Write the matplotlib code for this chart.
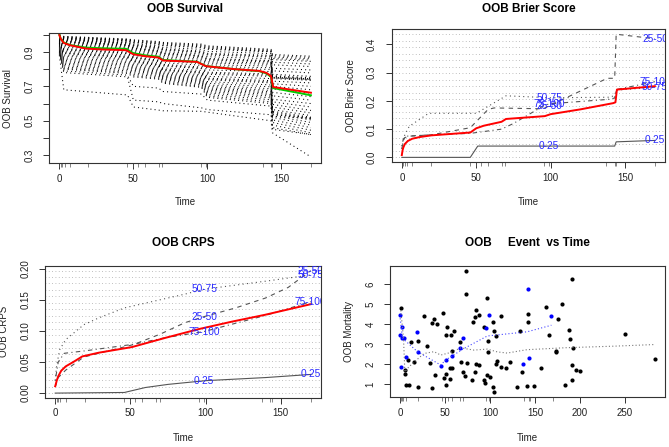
import matplotlib
matplotlib.use("Agg")
import matplotlib.pyplot as plt
import numpy as np

W, H = 669, 447
plt.rcParams["font.family"] = ["Liberation Sans", "DejaVu Sans"]

# event times (rug marks on every panel)
event_times = [0, 1, 2, 3.5, 7, 19.5, 46, 50, 53, 58, 67, 69.5, 95.5, 99, 137.5, 143, 144, 170]

# OOB survival: individual ensemble curves, read at these times
surv_grid = [0, 3, 46, 50, 67, 70, 96, 100, 143, 144, 170]
surv_curves = [
    [1.000, 0.990, 0.975, 0.970, 0.960, 0.955, 0.945, 0.935, 0.915, 0.885, 0.875],
    [0.998, 0.988, 0.972, 0.966, 0.956, 0.950, 0.940, 0.930, 0.910, 0.878, 0.868],
    [0.995, 0.985, 0.970, 0.962, 0.952, 0.946, 0.935, 0.925, 0.905, 0.870, 0.860],
    [0.995, 0.980, 0.965, 0.955, 0.944, 0.936, 0.925, 0.915, 0.900, 0.855, 0.845],
    [0.992, 0.982, 0.967, 0.958, 0.948, 0.940, 0.930, 0.920, 0.902, 0.862, 0.852],
    [0.990, 0.978, 0.960, 0.948, 0.936, 0.926, 0.915, 0.903, 0.890, 0.840, 0.830],
    [0.990, 0.975, 0.955, 0.942, 0.930, 0.918, 0.905, 0.892, 0.880, 0.825, 0.815],
    [0.988, 0.970, 0.950, 0.935, 0.922, 0.910, 0.896, 0.882, 0.870, 0.805, 0.795],
    [0.987, 0.973, 0.952, 0.938, 0.926, 0.914, 0.900, 0.887, 0.875, 0.748, 0.740],
    [0.985, 0.967, 0.946, 0.930, 0.916, 0.902, 0.888, 0.872, 0.860, 0.790, 0.778],
    [0.985, 0.963, 0.941, 0.924, 0.909, 0.895, 0.880, 0.862, 0.850, 0.770, 0.758],
    [0.983, 0.960, 0.940, 0.921, 0.906, 0.891, 0.876, 0.857, 0.846, 0.752, 0.744],
    [0.982, 0.958, 0.937, 0.918, 0.902, 0.887, 0.872, 0.852, 0.842, 0.762, 0.750],
    [0.980, 0.955, 0.933, 0.913, 0.897, 0.880, 0.865, 0.843, 0.835, 0.758, 0.746],
    [0.978, 0.950, 0.928, 0.907, 0.890, 0.872, 0.857, 0.835, 0.828, 0.755, 0.742],
    [0.975, 0.945, 0.922, 0.900, 0.882, 0.864, 0.848, 0.825, 0.818, 0.750, 0.738],
    [0.972, 0.940, 0.917, 0.893, 0.875, 0.856, 0.840, 0.815, 0.808, 0.745, 0.735],
    [0.970, 0.935, 0.912, 0.887, 0.868, 0.848, 0.832, 0.806, 0.798, 0.730, 0.720],
    [0.968, 0.928, 0.905, 0.880, 0.860, 0.838, 0.822, 0.795, 0.786, 0.715, 0.700],
    [0.965, 0.920, 0.898, 0.872, 0.852, 0.828, 0.812, 0.782, 0.772, 0.700, 0.680],
    [0.962, 0.915, 0.893, 0.868, 0.848, 0.823, 0.806, 0.776, 0.765, 0.525, 0.515],
    [0.960, 0.912, 0.890, 0.864, 0.844, 0.818, 0.802, 0.770, 0.758, 0.685, 0.660],
    [0.958, 0.905, 0.882, 0.856, 0.836, 0.808, 0.792, 0.758, 0.745, 0.665, 0.640],
    [0.955, 0.898, 0.875, 0.850, 0.829, 0.800, 0.784, 0.748, 0.733, 0.645, 0.620],
    [0.952, 0.893, 0.870, 0.846, 0.825, 0.796, 0.780, 0.743, 0.726, 0.535, 0.520],
    [0.950, 0.890, 0.867, 0.842, 0.821, 0.792, 0.775, 0.738, 0.720, 0.625, 0.600],
    [0.948, 0.882, 0.860, 0.835, 0.814, 0.785, 0.767, 0.728, 0.708, 0.610, 0.580],
    [0.945, 0.875, 0.853, 0.828, 0.807, 0.778, 0.760, 0.718, 0.697, 0.595, 0.560],
    [0.940, 0.866, 0.845, 0.820, 0.800, 0.772, 0.753, 0.708, 0.686, 0.580, 0.545],
    [0.935, 0.858, 0.838, 0.813, 0.794, 0.766, 0.746, 0.700, 0.676, 0.565, 0.530],
    [0.930, 0.850, 0.830, 0.806, 0.788, 0.760, 0.740, 0.692, 0.668, 0.555, 0.520],
    [0.925, 0.843, 0.823, 0.800, 0.782, 0.755, 0.734, 0.685, 0.660, 0.548, 0.512],
    [0.920, 0.835, 0.815, 0.793, 0.776, 0.750, 0.728, 0.678, 0.652, 0.540, 0.505],
    [0.915, 0.828, 0.806, 0.786, 0.770, 0.744, 0.722, 0.670, 0.643, 0.530, 0.490],
    [0.910, 0.820, 0.798, 0.778, 0.763, 0.738, 0.715, 0.662, 0.633, 0.520, 0.475],
    [0.905, 0.812, 0.790, 0.770, 0.756, 0.731, 0.708, 0.653, 0.622, 0.505, 0.460],
    [0.900, 0.805, 0.782, 0.762, 0.748, 0.724, 0.700, 0.644, 0.610, 0.490, 0.445],
    [0.895, 0.800, 0.775, 0.755, 0.742, 0.718, 0.694, 0.636, 0.600, 0.475, 0.430],
    [0.890, 0.790, 0.765, 0.700, 0.690, 0.670, 0.655, 0.620, 0.585, 0.460, 0.420],
    [0.885, 0.780, 0.755, 0.620, 0.610, 0.600, 0.575, 0.565, 0.535, 0.450, 0.420],
    [0.880, 0.680, 0.650, 0.580, 0.562, 0.558, 0.555, 0.550, 0.500, 0.430, 0.290],
]
ens_time = [0, 1, 3, 7, 18, 29, 45, 50, 58, 67, 70, 93, 99, 118, 135, 140, 143, 144.5, 170]
ens_surv = [0.997, 0.975, 0.952, 0.939, 0.919, 0.914, 0.910, 0.886, 0.875, 0.867, 0.850,
            0.842, 0.817, 0.800, 0.790, 0.778, 0.760, 0.696, 0.663]
km_surv = [1.000, 0.975, 0.955, 0.940, 0.925, 0.921, 0.918, 0.893, 0.880, 0.872, 0.853,
           0.843, 0.818, 0.800, 0.788, 0.775, 0.755, 0.690, 0.648]

# Brier score and CRPS, by mortality quartile
quart_labels = ["0-25", "25-50", "50-75", "75-100"]
brier_t = [
    [0, 46, 51, 143, 144, 170],
    [0, 1, 2, 5, 20, 46, 58, 62, 95, 100, 138, 143, 144, 170],
    [0, 1, 2, 5, 18, 50, 70, 100, 140, 143, 144, 170],
    [0, 1, 3, 20, 46, 67, 75, 96, 100, 138, 143, 144, 170],
]
brier_v = [
    [0, 0, 0.04, 0.04, 0.055, 0.06],
    [0.03, 0.06, 0.07, 0.075, 0.08, 0.105, 0.17, 0.175, 0.172, 0.185, 0.28, 0.28, 0.436, 0.42],
    [0.03, 0.06, 0.08, 0.11, 0.156, 0.156, 0.218, 0.211, 0.213, 0.22, 0.238, 0.248],
    [0.04, 0.065, 0.075, 0.08, 0.085, 0.1, 0.12, 0.185, 0.19, 0.205, 0.21, 0.24, 0.268],
]
brier_all_t = [0, 0.5, 1, 2, 4, 7, 12, 20, 46, 50, 55, 67, 70, 96, 100, 120, 142, 143.5, 144.5, 170]
brier_all_v = [0.008, 0.025, 0.035, 0.047, 0.058, 0.066, 0.072, 0.078, 0.088, 0.103, 0.112,
               0.126, 0.136, 0.146, 0.153, 0.170, 0.192, 0.195, 0.240, 0.252]

crps_t = [
    [0, 46, 60, 75, 100, 140, 170],
    [0, 2, 7, 19, 52, 70, 86, 99, 120, 140, 155, 170],
    [0, 1, 3, 7, 19, 29, 46, 86, 99, 140, 170],
    [0, 2, 6, 20, 52, 73, 99, 140, 170],
]
crps_v = [
    [0, 0.001, 0.009, 0.014, 0.02, 0.025, 0.030],
    [0.01, 0.025, 0.037, 0.058, 0.078, 0.095, 0.113, 0.123, 0.137, 0.153, 0.17, 0.197],
    [0.02, 0.045, 0.07, 0.086, 0.11, 0.121, 0.137, 0.159, 0.167, 0.18, 0.19],
    [0.02, 0.05, 0.064, 0.068, 0.0785, 0.089, 0.099, 0.125, 0.147],
]
crps_all_t = [0, 1, 2, 4, 7, 12, 18, 29, 51, 73.5, 95.6, 117.7, 139.7, 170]
crps_all_v = [0.011, 0.02, 0.027, 0.036, 0.043, 0.05, 0.059, 0.065, 0.074, 0.089, 0.103,
              0.115, 0.126, 0.143]

# OOB mortality vs time
cens_time = [0.7, 5.5, 5.8, 6.3, 9.9, 9.2, 15.5, 11.8, 20.3, 19.9, 26.6, 30.3, 33.3, 35.8,
             35.8, 37.7, 40.7, 38.4, 47.7, 50.6, 52.5, 57.0, 59.5, 50.6, 51.4, 55.5, 57.3,
             55.8, 49.2, 58.0, 66.6, 68.1, 70.3, 71.7, 72.8, 73.2, 73.9, 80.2, 81.3, 82.8,
             84.3, 82.8, 87.6, 84.6, 88.0, 93.2, 93.2, 93.9, 96.9, 96.9, 98.0, 97.5, 99.5,
             102.8, 104.2, 103.5, 103.9, 106.2, 106.2, 108.1, 111.8, 112.5, 117.3, 122.1,
             130.2, 133.2, 135.5, 140.9, 142.8, 142.8, 149.4, 156.5, 162.4, 165.7, 173.1,
             173.5, 175.3, 180.5, 183.5, 188.3, 189.0, 191.6, 191.6, 191.6, 192.7, 195.3,
             200.1, 250.1, 283.4]
cens_mort = [4.82, 1.48, 1.72, 0.95, 0.95, 2.18, 2.08, 3.10, 0.84, 3.18, 4.42, 2.89, 2.06, 0.78,
             4.07, 4.25, 4.00, 1.43, 4.57, 3.45, 3.87, 3.47, 3.65, 1.48, 0.93, 1.78, 1.81,
             1.23, 1.28, 2.65, 3.10, 2.12, 1.60, 1.42, 6.70, 5.50, 2.05, 1.20, 4.12, 4.35,
             4.73, 1.62, 4.47, 2.00, 1.97, 3.85, 1.20, 1.05, 5.32, 1.43, 2.62, 3.15, 1.35,
             4.13, 3.65, 0.85, 0.57, 3.42, 2.00, 2.13, 4.43, 1.87, 1.80, 2.10, 0.85, 3.68,
             1.60, 0.91, 4.50, 4.12, 0.91, 1.80, 4.86, 3.45, 2.67, 2.58, 4.25, 5.03, 0.95,
             3.73, 3.28, 6.28, 1.96, 1.21, 2.78, 1.68, 1.66, 3.53, 2.23]
event_time = [0, 2.2, 0, 2.2, 4.8, 0.7, 6.6, 18.8, 19.6, 45.8, 51.4, 57.7, 66.6, 69.9, 95.4,
              98.4, 137.2, 142.4, 143.9, 168.3]
event_mort = [4.48, 3.85, 3.48, 3.30, 3.30, 1.86, 2.35, 3.62, 2.62, 1.90, 2.20, 2.40, 2.78,
              3.32, 3.80, 4.48, 1.98, 5.78, 2.32, 4.41]
lowess_all_t = [0.7, 3.7, 5.2, 8.1, 15.5, 26.6, 37.7, 45.1, 56.2, 67.3, 82.1, 97, 108, 119,
                141, 185, 240, 283.4]
lowess_all_v = [4.7, 3.28, 1.6, 1.78, 2.1, 2.53, 2.62, 2.45, 2.58, 2.81, 2.70, 2.75, 2.61,
                2.55, 2.72, 2.82, 2.90, 2.98]
lowess_ev_t = [0, 2.5, 19.2, 45.1, 50.6, 71, 97, 141.3, 168.3]
lowess_ev_v = [4.3, 3.3, 2.62, 1.95, 2.2, 2.78, 3.41, 3.62, 3.95]

LINE_STYLES = ["-", (0, (4, 4)), (0, (1, 3)), (0, (1, 3, 4, 3))]
AX_COL = "#333333"

fig = plt.figure(figsize=(W / 100, H / 100), dpi=100)


def add_panel(box, title, ylabel, title_y, xlabel_y):
    """Place an R-style panel at a pixel box (left, top, right, bottom)."""
    l, t, r, b = box
    ax = fig.add_axes([l / W, 1 - b / H, (r - l) / W, (b - t) / H])
    for sp in ax.spines.values():
        sp.set_color(AX_COL)
        sp.set_linewidth(0.8)
    ax.tick_params(direction="out", length=4.5, width=0.7, colors=AX_COL,
                   labelsize=7, labelcolor="#222222")
    ax.tick_params(axis="x", pad=3)
    ax.tick_params(axis="y", pad=6)
    cx = (l + r) / 2
    fig.text(cx / W, 1 - title_y / H, title, ha="center", va="center",
             fontsize=8.5, fontweight="bold")
    fig.text(cx / W, 1 - xlabel_y / H, "Time", ha="center", va="center", fontsize=7,
             color="#222222")
    fig.text((l - 41) / W, 1 - (t + b) / 2 / H, ylabel, ha="center", va="center",
             rotation=90, fontsize=7, color="#222222")
    return ax


def finish_y(ax, ticks, labels):
    ax.set_yticks(ticks)
    ax.set_yticklabels(labels)
    for lab in ax.get_yticklabels():
        lab.set_rotation(90)
        lab.set_va("center")


def rug(ax):
    ax.vlines(event_times, -0.03, 0, transform=ax.get_xaxis_transform(),
              colors="#555555", linewidth=0.5, clip_on=False)


def r_limits(values):
    lo, hi = min(values), max(values)
    pad = 0.04 * (hi - lo)
    return lo - pad, hi + pad


# --- OOB Survival ---
ax = add_panel((49.3, 33.3, 321, 163.3), "OOB Survival", "OOB Survival", 8.5, 201.7)
for curve in surv_curves:
    ax.plot(surv_grid, curve, color="black", lw=0.75, ls=(0, (1, 3)))
ax.plot(ens_time, km_surv, color="#00CD00", lw=1.4)
ax.plot(ens_time, ens_surv, color="red", lw=1.4)
rug(ax)
ax.set_xlim(-6.8, 176.8)
ax.set_ylim(0.253, 1.008)
ax.set_xticks([0, 50, 100, 150])
finish_y(ax, np.round(np.arange(0.3, 1.01, 0.1), 1),
         ["0.3", "", "0.5", "", "0.7", "", "0.9", ""])


def quartile_panel(ax, ts, vs, all_t, all_v):
    vmax = max(max(v) for v in vs)
    for y in np.linspace(0, vmax, 20):
        ax.axhline(y, color="#aaaaaa", lw=0.6, ls=(0, (1, 3)), zorder=0)
    for t, v, ls in zip(ts, vs, LINE_STYLES):
        ax.plot(t, v, color="#555555", lw=0.8, ls=ls)
    mid = event_times[int(round(len(event_times) * 3 / 4)) - 1]
    end = event_times[-1]
    for t, v, lab in zip(ts, vs, quart_labels):
        for tx in (mid, end):
            ax.text(tx, np.interp(tx, t, v), lab, color="#2a2aff", fontsize=7.3,
                    ha="center", va="center", clip_on=True)
    ax.plot(all_t, all_v, color="red", lw=1.4)
    rug(ax)
    ax.set_xlim(-6.8, 176.8)
    lo = min(min(v) for v in vs)
    ax.set_ylim(*r_limits([lo, vmax]))
    ax.set_xticks([0, 50, 100, 150])


# --- OOB Brier Score ---
ax = add_panel((391.7, 29.3, 665, 162.3), "OOB Brier Score", "OOB Brier Score", 8.5, 201.7)
quartile_panel(ax, brier_t, brier_v, brier_all_t, brier_all_v)
finish_y(ax, [0, 0.1, 0.2, 0.3, 0.4], ["0.0", "0.1", "0.2", "0.3", "0.4"])

# --- OOB CRPS ---
ax = add_panel((45, 265.7, 321, 398), "OOB CRPS", "OOB CRPS", 243.5, 438)
quartile_panel(ax, crps_t, crps_v, crps_all_t, crps_all_v)
finish_y(ax, [0, 0.05, 0.1, 0.15, 0.2], ["0.00", "0.05", "0.10", "0.15", "0.20"])

# --- OOB mortality vs time ---
ax = add_panel((390, 265.7, 665, 397.3), "OOB     Event  vs Time", "OOB Mortality", 243.5, 438)
ax.scatter(cens_time, cens_mort, s=9, color="black", linewidths=0)
ax.scatter(event_time, event_mort, s=9, color="blue", linewidths=0)
ax.plot(lowess_all_t, lowess_all_v, color="#777777", lw=0.8, ls=(0, (1, 2)))
ax.plot(lowess_ev_t, lowess_ev_v, color="#4444ff", lw=0.8, ls=(0, (1, 2)))
rug(ax)
ax.set_xlim(*r_limits(cens_time + event_time))
ax.set_ylim(*r_limits(cens_mort + event_mort))
ax.set_xticks([0, 50, 100, 150, 200, 250])
finish_y(ax, [1, 2, 3, 4, 5, 6], ["1", "2", "3", "4", "5", "6"])

fig.savefig("out.png", dpi=100)
